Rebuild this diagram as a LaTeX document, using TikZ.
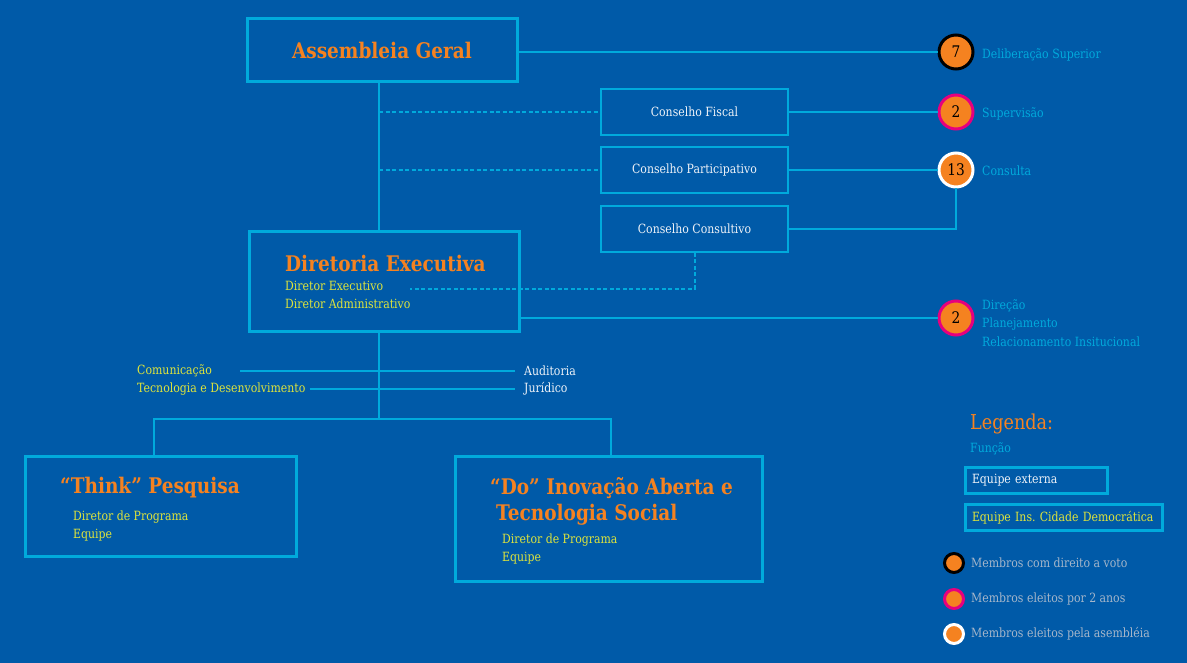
\documentclass[tikz,border=0pt]{standalone}
\usepackage{fontspec}
\setmainfont{DejaVu Serif}[FakeStretch=0.86]
\usetikzlibrary{positioning}
\definecolor{fundo}{RGB}{0,90,168}
\definecolor{linha}{RGB}{0,170,220}
\definecolor{laranja}{RGB}{245,130,32}
\definecolor{rosa}{RGB}{230,0,126}
\definecolor{amarelo}{RGB}{222,228,60}
\definecolor{branco}{RGB}{238,242,248}
\definecolor{cinza}{RGB}{165,182,202}

\begin{document}
\begin{tikzpicture}[x=1pt,y=-1pt,
	caixa/.style={draw=linha, line width=3pt, inner sep=0pt},
	conselho/.style={draw=linha, line width=2pt, minimum width=187pt, minimum height=46pt, text=branco, font=\fontsize{12.7}{15}\selectfont},
	titulo/.style={text=laranja, font=\bfseries\fontsize{21.5}{25}\selectfont, inner sep=0pt},
	sub/.style={text=amarelo, font=\fontsize{12.7}{15}\selectfont, anchor=west, inner sep=0pt},
	funcao/.style={text=linha, font=\fontsize{12.7}{15}\selectfont, anchor=west, inner sep=0pt},
	membro/.style={circle, fill=laranja, line width=3pt, minimum size=34pt, inner sep=0pt, text=black, font=\fontsize{16}{18}\selectfont},
	mini/.style={circle, fill=laranja, line width=3pt, minimum size=19pt, inner sep=0pt},
	liga/.style={draw=linha, line width=2pt},
	tracejado/.style={liga, dash pattern=on 4pt off 2.5pt}]

	\fill[fundo] (0,0) rectangle (1187,663);
	\useasboundingbox (0,0) rectangle (1187,663);

	% caixas principais
	\node[caixa, titulo, minimum width=270pt, minimum height=63pt] (ag) at (382,50.5) {Assembleia Geral};
	\node[caixa, minimum width=270pt, minimum height=100pt] (de) at (384,282) {};
	\node[titulo, anchor=west] (det) at (285,263) {Diretoria Executiva};
	\node[sub] (de1) at (285,286) {Diretor Executivo};
	\node[sub] (de2) at (285,304) {Diretor Administrativo};

	\node[conselho] (cf) at (694.5,112) {Conselho Fiscal};
	\node[conselho] (cp) at (694.5,170) {Conselho Participativo};
	\node[conselho] (cc) at (694.5,229) {Conselho Consultivo};

	\node[membro, draw=black] (c7) at (956,52) {7};
	\node[membro, draw=rosa] (c2a) at (956,112) {2};
	\node[membro, draw=white] (c13) at (956,170) {13};
	\node[membro, draw=rosa] (c2b) at (956,318) {2};

	\node[funcao] (f1) at (982,55) {Deliberação Superior};
	\node[funcao] (f2) at (982,114) {Supervisão};
	\node[funcao] (f3) at (982,171) {Consulta};
	\node[funcao] (f4) at (982,306) {Direção};
	\node[funcao] (f5) at (982,324) {Planejamento};
	\node[funcao] (f6) at (982,342) {Relacionamento Insitucional};

	\coordinate (tk) at (379,0);
	\coordinate (dx) at (410,289);
	\coordinate (sp) at (379,419);

	\draw[liga] (c7.west -| ag.east) -- (c7.west);
	\draw[liga] (tk |- ag.south) -- (tk |- de.north);
	\draw[tracejado] (tk |- cf.west) -- (cf.west);
	\draw[tracejado] (tk |- cp.west) -- (cp.west);
	\draw[liga] (cf.east) -- (c2a.west);
	\draw[liga] (cp.east) -- (c13.west);
	\draw[liga] (cc.east) -| (c13.south);
	\draw[tracejado] (cc.south) |- (dx);
	\draw[liga] (c2b.west -| de.east) -- (c2b.west);

	% areas de apoio
	\node[sub] (com) at (137,371) {Comunicação};
	\node[sub] (tec) at (137,389) {Tecnologia e Desenvolvimento};
	\node[funcao, text=branco] (aud) at (524,371) {Auditoria};
	\node[funcao, text=branco] (jur) at (524,389) {Jurídico};
	\draw[liga] (240,0 |- com.east) -- ([xshift=-9pt]aud.west);
	\draw[liga] ([xshift=4pt]tec.east) -- ([xshift=-9pt]jur.west);
	\draw[liga] (tk |- de.south) -- (sp);

	% programas
	\node[caixa, minimum width=271pt, minimum height=100pt] (th) at (160.5,506) {};
	\node[titulo, anchor=west] (tht) at (60,488) {“Think” Pesquisa};
	\node[sub] (th1) at (73,517) {Diretor de Programa};
	\node[sub] (th2) at (73,535) {Equipe};

	\node[caixa, minimum width=307pt, minimum height=125pt] (do) at (608.5,518.5) {};
	\node[titulo, anchor=west] (dot1) at (490,488) {“Do” Inovação Aberta e};
	\node[titulo, anchor=west] (dot2) at (496,515) {Tecnologia Social};
	\node[sub] (do1) at (502,540) {Diretor de Programa};
	\node[sub] (do2) at (502,558) {Equipe};

	\draw[liga] ([xshift=-7pt]th.north) |- (sp) -| ([xshift=2pt]do.north);

	% legenda
	\node[text=laranja, font=\fontsize{20.5}{23}\selectfont, anchor=west, inner sep=0pt] (leg) at (970,424) {Legenda:};
	\node[funcao] (lf) at (970,449) {Função};
	\node[draw=linha, line width=3pt, anchor=west, text width=128pt, inner xsep=7pt, minimum height=26pt, text=branco, font=\fontsize{12.7}{15}\selectfont] (le1) at (963.5,480) {Equipe externa};
	\node[draw=linha, line width=3pt, anchor=west, text width=183pt, inner xsep=7pt, minimum height=26pt, text=amarelo, font=\fontsize{12.7}{15}\selectfont] (le2) at (963.5,517.5) {Equipe Ins.\ Cidade Democrática};

	\node[mini, draw=black] (m1) at (954,563) {};
	\node[mini, draw=rosa] (m2) at (954,599) {};
	\node[mini, draw=white] (m3) at (954,634) {};
	\node[funcao, text=cinza] (lm1) at (971,563) {Membros com direito a voto};
	\node[funcao, text=cinza] (lm2) at (971,599) {Membros eleitos por 2 anos};
	\node[funcao, text=cinza] (lm3) at (971,634) {Membros eleitos pela asembléia};

\end{tikzpicture}
\end{document}
